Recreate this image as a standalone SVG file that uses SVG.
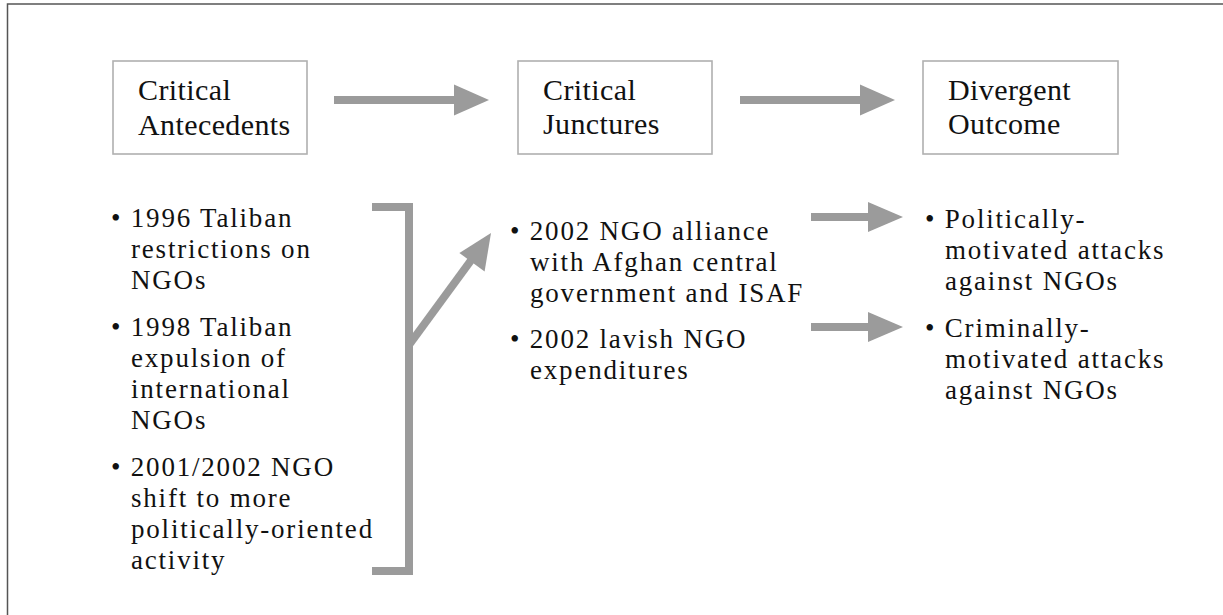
<svg xmlns="http://www.w3.org/2000/svg" width="1223" height="615" viewBox="0 0 1223 615">
<style>
.box{fill:#fff;stroke:#b0b0b0;stroke-width:1.6}
.title{font-family:"Liberation Serif","Times New Roman",serif;font-size:30px;fill:#111;letter-spacing:0.4px}
.item{font-family:"Liberation Serif","Times New Roman",serif;font-size:27px;fill:#111;letter-spacing:1.8px}
.shaft{stroke:#9b9b9b;stroke-width:8;fill:none}
.head{fill:#9b9b9b}
</style>
<rect x="0" y="0" width="1223" height="615" fill="#fff"/>
<path d="M7.5 615 V4 H1223" fill="none" stroke="#555" stroke-width="1.5"/>
<g id="node-antecedents">
<rect class="box" x="113" y="61" width="194" height="93"/>
<text class="title" x="138" y="100">Critical</text>
<text class="title" x="138" y="135">Antecedents</text>
</g>
<g id="node-junctures">
<rect class="box" x="518" y="61" width="194" height="93"/>
<text class="title" x="543" y="100">Critical</text>
<text class="title" x="543" y="134">Junctures</text>
</g>
<g id="node-outcome">
<rect class="box" x="923" y="61" width="195" height="93"/>
<text class="title" x="948" y="100">Divergent</text>
<text class="title" x="948" y="134">Outcome</text>
</g>
<g id="list-antecedents">
<text class="item" x="111" y="227">• 1996 Taliban</text>
<text class="item" x="131" y="258">restrictions on</text>
<text class="item" x="131" y="289">NGOs</text>
<text class="item" x="111" y="336">• 1998 Taliban</text>
<text class="item" x="131" y="367">expulsion of</text>
<text class="item" x="131" y="398">international</text>
<text class="item" x="131" y="429">NGOs</text>
<text class="item" x="111" y="476">• 2001/2002 NGO</text>
<text class="item" x="131" y="507">shift to more</text>
<text class="item" x="131" y="538">politically-oriented</text>
<text class="item" x="131" y="569">activity</text>
</g>
<g id="list-junctures">
<text class="item" x="510" y="240">• 2002 NGO alliance</text>
<text class="item" x="530" y="271">with Afghan central</text>
<text class="item" x="530" y="302">government and ISAF</text>
<text class="item" x="510" y="348">• 2002 lavish NGO</text>
<text class="item" x="530" y="379">expenditures</text>
</g>
<g id="list-outcomes">
<text class="item" x="925" y="228">• Politically-</text>
<text class="item" x="945" y="259">motivated attacks</text>
<text class="item" x="945" y="290">against NGOs</text>
<text class="item" x="925" y="337">• Criminally-</text>
<text class="item" x="945" y="368">motivated attacks</text>
<text class="item" x="945" y="399">against NGOs</text>
</g>
<g id="connectors">
<line class="shaft" x1="334" y1="100" x2="456" y2="100"/>
<polygon class="head" points="489,100 454,84.5 454,115.5"/>
<line class="shaft" x1="740" y1="100" x2="862" y2="100"/>
<polygon class="head" points="895,100 860,84.5 860,115.5"/>
<line class="shaft" x1="811" y1="217" x2="870" y2="217"/>
<polygon class="head" points="903,217 868,202 868,232"/>
<line class="shaft" x1="811" y1="327" x2="870" y2="327"/>
<polygon class="head" points="903,327 868,312 868,342"/>
<path class="shaft" d="M372 207 H409 V571 H372"/>
<line class="shaft" x1="409" y1="345" x2="472" y2="259"/>
<polygon class="head" points="491,233 484.6,271.4 459.4,253"/>
</g>
</svg>
